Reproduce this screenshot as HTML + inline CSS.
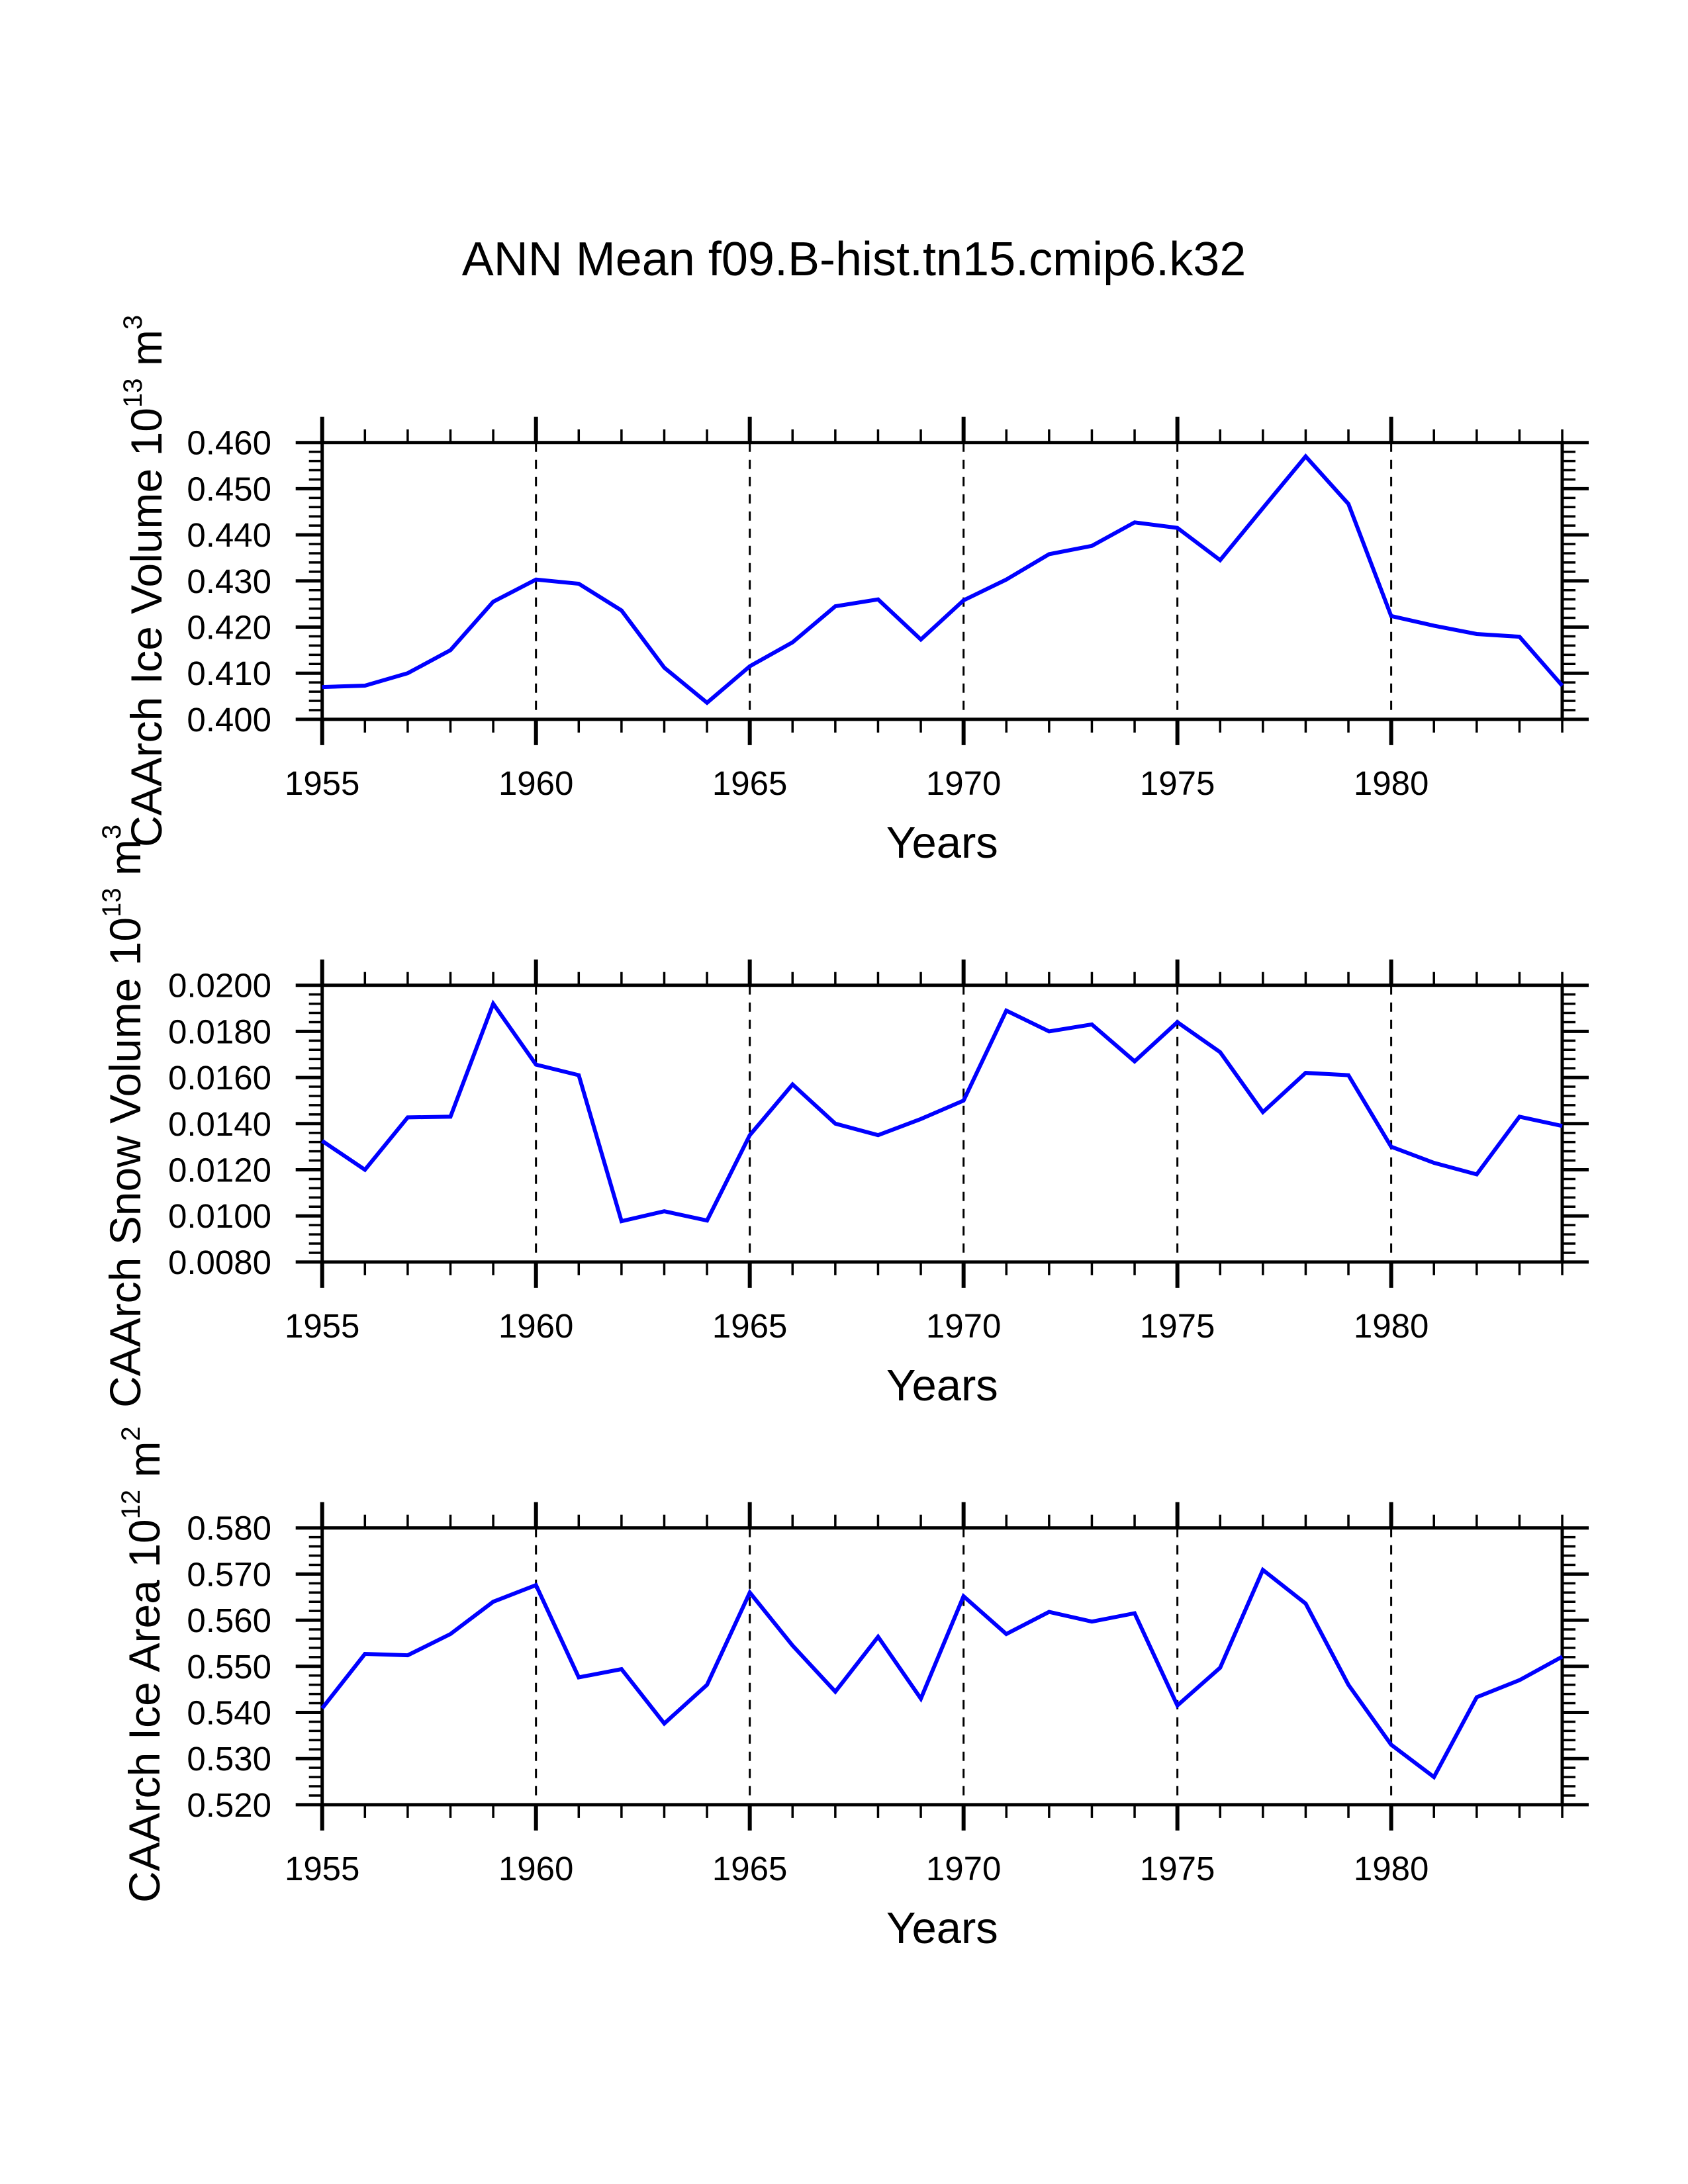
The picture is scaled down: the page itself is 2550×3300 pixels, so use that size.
<!DOCTYPE html>
<html><head><meta charset="utf-8"><title>ANN Mean f09.B-hist.tn15.cmip6.k32</title>
<style>html,body{margin:0;padding:0;background:#fff}svg{display:block}text{font-family:"Liberation Sans",sans-serif;fill:#000}</style>
</head><body>
<svg id="chart" width="2550" height="3300" viewBox="0 0 2550 3300" xmlns="http://www.w3.org/2000/svg">
<rect width="2550" height="3300" fill="#fff"/>
<text x="1290" y="416" font-size="72" text-anchor="middle">ANN Mean f09.B-hist.tn15.cmip6.k32</text>
</svg>
<script>
const years = [1955,1956,1957,1958,1959,1960,1961,1962,1963,1964,1965,1966,1967,1968,1969,1970,1971,1972,1973,1974,1975,1976,1977,1978,1979,1980,1981,1982,1983,1984];
const iceVolume = [0.4070,0.4073,0.4100,0.4150,0.4255,0.4303,0.4294,0.4236,0.4112,0.4036,0.4115,0.4167,0.4245,0.4260,0.4173,0.4258,0.4303,0.4358,0.4376,0.4427,0.4415,0.4345,0.4458,0.4570,0.4467,0.4224,0.4203,0.4185,0.4179,0.4073];
const snowVolume = [0.01325,0.0120,0.01427,0.01430,0.0192,0.01656,0.0161,0.00977,0.0102,0.0098,0.0135,0.0157,0.0140,0.0135,0.0142,0.0150,0.0189,0.0180,0.0183,0.0167,0.0184,0.0171,0.0145,0.0162,0.0161,0.0130,0.0123,0.0118,0.0143,0.0139];
const iceArea = [0.5409,0.5527,0.5524,0.5570,0.5640,0.5676,0.5476,0.5494,0.5376,0.5460,0.5660,0.5545,0.5445,0.5564,0.5430,0.5652,0.5570,0.5618,0.5597,0.5615,0.5415,0.5497,0.5709,0.5636,0.5460,0.5330,0.5260,0.5433,0.5470,0.5521];
const iceVolumeTicks = ["0.400","0.410","0.420","0.430","0.440","0.450","0.460"];
const snowVolumeTicks = ["0.0080","0.0100","0.0120","0.0140","0.0160","0.0180","0.0200"];
const iceAreaTicks = ["0.520","0.530","0.540","0.550","0.560","0.570","0.580"];
const xTickLabels = ["1955","1960","1965","1970","1975","1980"];

const NS = "http://www.w3.org/2000/svg";
const svg = document.getElementById('chart');
const L = 486.7, R = 2360;
const xMin = 1955, xMax = 1984;
function mk(tag, attrs, parent){const e=document.createElementNS(NS,tag);for(const k in attrs)e.setAttribute(k,attrs[k]);(parent||svg).appendChild(e);return e;}

const panels = [
 {top:668.7, data:iceVolume, ticks:iceVolumeTicks, name:'ice-volume', title:['CAArch Ice Volume 10','13',' m','3'], tx:244, ty:1280},
 {top:1488.7, data:snowVolume, ticks:snowVolumeTicks, name:'snow-volume', title:['CAArch Snow Volume 10','13',' m','3'], tx:212, ty:2127},
 {top:2308.7, data:iceArea, ticks:iceAreaTicks, name:'ice-area', title:['CAArch Ice Area 10','12',' m','2'], tx:241, ty:2875}
];
const H = 418.2;

panels.forEach(p=>{
  const T=p.top, B=T+H;
  const yLo=parseFloat(p.ticks[0]), yHi=parseFloat(p.ticks[p.ticks.length-1]);
  const xs=v=>L+(v-xMin)/(xMax-xMin)*(R-L);
  const ys=v=>B-(v-yLo)/(yHi-yLo)*H;
  const g=mk('g',{});
  
  
  xTickLabels.forEach(lbl=>{
    const v=+lbl; if(v===xMin) return;
    const x=xs(v);
    const gl=mk('line',{x1:x,y1:T,x2:x,y2:B,stroke:'#000','stroke-width':3,'stroke-dasharray':'14 12'},g);
    
    
  });
  for(let yr=xMin; yr<=xMax; yr++){
    const x=xs(yr); const major=(yr%5===0);
    const len=major?39:20, w=major?6:3.5;
    mk('line',{x1:x,y1:B,x2:x,y2:B+len,stroke:'#000','stroke-width':w},g);
    mk('line',{x1:x,y1:T,x2:x,y2:T-len,stroke:'#000','stroke-width':w},g);
  }
  const nMaj=p.ticks.length-1;
  for(let i=0;i<=nMaj*5;i++){
    const y=B-i*H/(nMaj*5); const major=(i%5===0);
    if(major){
      mk('line',{x1:L,y1:y,x2:L-40,y2:y,stroke:'#000','stroke-width':5},g);
      mk('line',{x1:R,y1:y,x2:R+40,y2:y,stroke:'#000','stroke-width':5},g);
    } else {
      mk('line',{x1:L,y1:y,x2:L-20,y2:y,stroke:'#000','stroke-width':3.5},g);
      mk('line',{x1:R,y1:y,x2:R+20,y2:y,stroke:'#000','stroke-width':3.5},g);
    }
  }
  const fr=mk('rect',{x:L,y:T,width:R-L,height:H,fill:'none',stroke:'#000','stroke-width':5},g);
  
  
  p.ticks.forEach(t=>{
    const tl=mk('text',{x:410,y:ys(parseFloat(t))+18,'font-size':51,'text-anchor':'end'},g);
    tl.textContent=t;
    
    
  });
  xTickLabels.forEach(lbl=>{
    const tl=mk('text',{x:xs(+lbl),y:B+114,'font-size':51,'text-anchor':'middle'},g);
    tl.textContent=lbl;
    
    
  });
  const xt=mk('text',{x:(L+R)/2,y:B+209,'font-size':67,'text-anchor':'middle'},g);
  xt.textContent='Years';
  
  
  const yt=mk('text',{x:0,y:0,'font-size':66,transform:`translate(${p.tx},${p.ty}) rotate(-90)`},g);
  
  
  p.title.forEach((s,i)=>{
    const ts=mk('tspan',i%2===1?{'font-size':40,dy:-30}:(i>0?{dy:30}:{}),yt);
    ts.textContent=s;
  });
  const d=p.data.map((v,i)=>(i?'L':'M')+xs(years[i]).toFixed(1)+','+ys(v).toFixed(1)).join(' ');
  const ln=mk('path',{d:d,fill:'none',stroke:'#0000ff','stroke-width':6,'stroke-linejoin':'miter'},g);
  
  
});
</script>
</body></html>
